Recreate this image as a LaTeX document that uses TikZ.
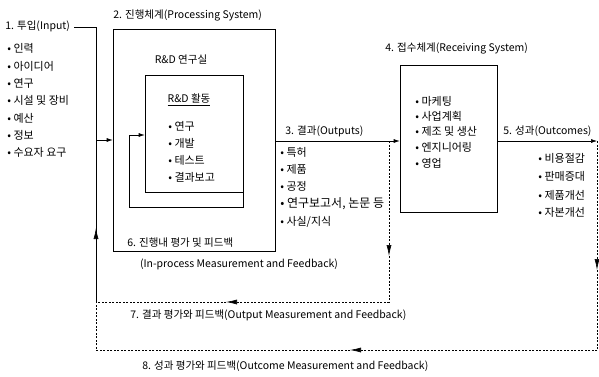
\documentclass[tikz,border=0pt]{standalone}
\usepackage{fontspec}
\setmainfont{Noto Sans CJK KR}
\usetikzlibrary{arrows.meta}
\begin{document}
\begin{tikzpicture}[x=1pt,y=-1pt, font=\fontsize{10.5}{12}\selectfont, line width=0.6pt,
 box/.style={draw, rectangle, inner sep=0pt},
 lbl/.style={inner sep=0pt, anchor=west},
 item/.style={inner sep=0pt, anchor=west, font=\fontsize{11}{13}\selectfont},
 dsh/.style={dash pattern=on 2pt off 1.5pt},
 tip/.style={-{Latex[length=6pt,width=4pt]}},
 bigtip/.style={-{Latex[length=11pt,width=5pt]}}]
\useasboundingbox (0,0) rectangle (599,376);
% boxes
\node[box, minimum width=162pt, minimum height=222pt] (proc) at (194,140) {};
\node[box, minimum width=98pt, minimum height=117pt] (act) at (194,133.5) {};
\node[box, minimum width=97pt, minimum height=147pt] (recv) at (448.5,138.5) {};
% titles
\node[lbl] (t1) at (5,26) {1. 투입(Input)};
\node[lbl] (t2) at (113,15) {2. 진행체계(Processing System)};
\node (lab) at (181,60) {R\&D 연구실};
\node (rdact) at (189,100) {\underline{R\&D 활동}};
\node[lbl] (t3) at (285,131) {3. 결과(Outputs)};
\node[lbl] (t4) at (385,48) {4. 접수체계(Receiving System)};
\node[lbl] (t5) at (503,131) {5. 성과(Outcomes)};
\node[lbl] (t6) at (127,243) {6. 진행내 평가 및 피드백};
\node (t6b) at (239,264) {(In-process Measurement and Feedback)};
\node[lbl] (t7) at (130,315) {7. 결과 평가와 피드백(Output Measurement and Feedback)};
\node[lbl] (t8) at (142,366) {8. 성과 평가와 피드백(Outcome Measurement and Feedback)};
% input list
\node[item] (i1) at (7,48) {• 인력};
\node[item] (i2) at (7,66) {• 아이디어};
\node[item] (i3) at (7,83) {• 연구};
\node[item] (i4) at (7,100) {• 시설 및 장비};
\node[item] (i5) at (7,118) {• 예산};
\node[item] (i6) at (7,135) {• 정보};
\node[item] (i7) at (7,152) {• 수요자 요구};
% activity list
\node[item] (a1) at (168,126) {• 연구};
\node[item] (a2) at (168,143) {• 개발};
\node[item] (a3) at (168,160) {• 테스트};
\node[item] (a4) at (168,177) {• 결과보고};
% output list
\node[item] (o1) at (280,152) {• 특허};
\node[item] (o2) at (280,169) {• 제품};
\node[item] (o3) at (280,186) {• 공정};
\node[item, font=\fontsize{12}{14}\selectfont] (o4) at (280,204) {• 연구보고서, 논문 등};
\node[item] (o5) at (280,222) {• 사실/지식};
% receiving list
\node[item] (r1) at (415,101) {• 마케팅};
\node[item] (r2) at (415,116) {• 사업계획};
\node[item] (r3) at (415,131) {• 제조 및 생산};
\node[item] (r4) at (415,147) {• 엔지니어링};
\node[item] (r5) at (415,163) {• 영업};
% outcome list
\node[item] (u1) at (538,158) {• 비용절감};
\node[item] (u2) at (538,176) {• 판매증대};
\node[item] (u3) at (538,195) {• 제품개선};
\node[item] (u4) at (538,212) {• 자본개선};
% coordinates
\coordinate (inc) at (96,27);
\coordinate (inmid) at (96,140);
\coordinate (upar) at (96,228);
\coordinate (c7l) at (96,302);
\coordinate (c8l) at (96,350);
\coordinate (lp) at (129,207);
\coordinate (lq) at (129,135);
\coordinate (oy) at (389,141);
\coordinate (a7) at (389,256);
\coordinate (c7r) at (389,302);
\coordinate (a7l) at (226,302);
\coordinate (oc) at (597,141);
\coordinate (a8) at (597,270);
\coordinate (c8r) at (597,350);
\coordinate (a8l) at (350,350);
% connectors
\draw ([xshift=4pt]t1.east |- inc) -- (inc) -- (c7l);
\draw[tip] (inmid) -- (proc.west);
\draw[bigtip] (c7l) -- (upar);
\draw[tip] (act.south east) -- (act.south east |- lp) -- (lp) -- (lq) -- (act.west |- lq);
\draw[tip] (proc.east |- oy) -- (recv.west |- oy);
\draw[tip] (recv.east |- oy) -- (oc);
\draw[dsh, bigtip] (oy) -- (a7);
\draw[dsh] (a7) -- (c7r);
\draw[dsh, bigtip] (c7r) -- (a7l);
\draw[dsh] (a7l) -- (c7l);
\draw[dsh, bigtip] (oc) -- (a8);
\draw[dsh] (a8) -- (c8r);
\draw[dsh, bigtip] (c8r) -- (a8l);
\draw[dsh] (a8l) -- (c8l) -- (c7l);
\end{tikzpicture}
\end{document}
